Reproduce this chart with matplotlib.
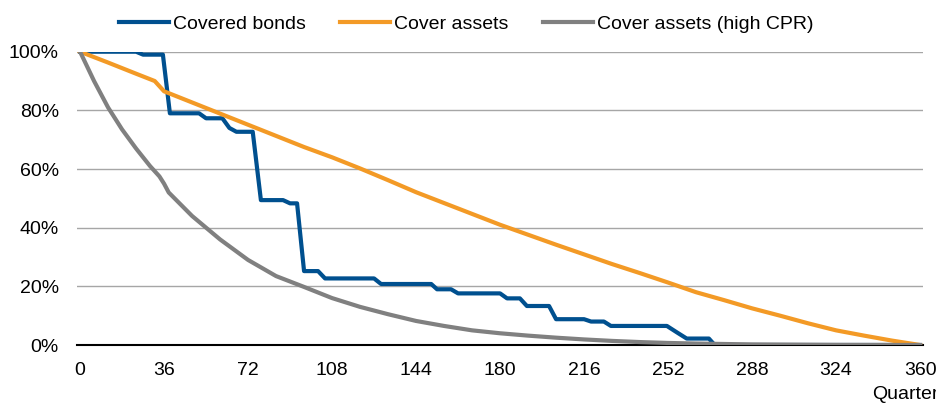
import matplotlib
matplotlib.use("Agg")
import matplotlib.pyplot as plt
from matplotlib.ticker import PercentFormatter

plt.rcParams['font.family'] = ['Liberation Sans', 'DejaVu Sans']

# Covered bonds (step-like redemption profile), vertices
bonds_x = [0, 24, 27, 35.5, 38.5, 51, 54, 61, 64, 67, 74, 77.5, 87, 90, 93, 96,
           102, 105, 126, 129, 150.5, 153, 159, 162, 180, 183, 188.5, 191.5,
           201, 204, 216, 219, 224.5, 227.5, 251.5, 256, 260, 269.5, 272, 360]
bonds_y = [100, 100, 99, 99, 79, 79, 77.3, 77.3, 74, 72.7, 72.7, 49.4, 49.4, 48.3,
           48.3, 25.2, 25.2, 22.7, 22.7, 20.8, 20.8, 19.0, 19.0, 17.6, 17.6, 15.9,
           15.9, 13.3, 13.3, 8.8, 8.8, 8.0, 8.0, 6.5, 6.5, 4.2, 2.2, 2.2, 0, 0]

# Cover assets
assets_x = [0, 12, 24, 32, 36, 48, 60, 72, 84, 96, 108, 120, 132, 144, 156, 168,
            180, 192, 204, 216, 228, 240, 252, 264, 276, 288, 300, 312, 324, 336,
            348, 360]
assets_y = [100, 96.3, 92.5, 90, 86.5, 82.7, 78.9, 75.1, 71.3, 67.5, 64, 60.2,
            56.2, 52.1, 48.4, 44.7, 41.0, 37.6, 34.2, 30.9, 27.6, 24.5, 21.3,
            18.0, 15.3, 12.5, 10.0, 7.4, 5.0, 3.2, 1.5, 0]

# Cover assets (high CPR)
cpr_x = [0, 6, 12, 18, 24, 30, 34, 36, 38, 48, 60, 72, 84, 96, 108, 120, 132,
         144, 156, 168, 180, 192, 204, 216, 228, 240, 252, 264, 288, 324, 360]
cpr_y = [100, 90, 81, 73.5, 67, 61, 57.5, 55, 52, 44, 36, 29, 23.5, 19.8, 16,
         13, 10.5, 8.2, 6.5, 5, 4, 3.2, 2.5, 1.9, 1.4, 1.0, 0.7, 0.5, 0.2, 0.05, 0]

x_ticks = list(range(0, 361, 36))
y_ticks = [0, 20, 40, 60, 80, 100]

fs = 14

fig = plt.figure(figsize=(9.36, 4.12), dpi=100)
ax = fig.add_axes([0.0823, 0.1626, 0.9039, 0.7119])

ax.plot(bonds_x, bonds_y, color='#00508F', linewidth=3, label='Covered bonds')
ax.plot(assets_x, assets_y, color='#F39A26', linewidth=3, label='Cover assets')
ax.plot(cpr_x, cpr_y, color='#808080', linewidth=3, label='Cover assets (high CPR)')

ax.set_xlim(-1.3, 361.3)
ax.set_ylim(0, 100)
ax.set_xticks(x_ticks)
ax.set_yticks(y_ticks)
ax.yaxis.set_major_formatter(PercentFormatter(decimals=0))
ax.tick_params(axis='both', length=0, labelsize=fs, colors='black')
ax.tick_params(axis='x', pad=12)
ax.tick_params(axis='y', pad=13)

ax.grid(axis='y', color='#A6A6A6', linewidth=1)
ax.set_axisbelow(True)
for s in ['top', 'right', 'left']:
    ax.spines[s].set_visible(False)
ax.spines['bottom'].set_color('black')
ax.spines['bottom'].set_linewidth(1.5)
ax.spines['bottom'].set_zorder(1.5)

fig.legend(*ax.get_legend_handles_labels(), loc='center', bbox_to_anchor=(0.498, 0.941),
           ncol=3, frameon=False, fontsize=fs, handlelength=2.6, handletextpad=0.2,
           columnspacing=1.75, borderpad=0)

# axis title is cut off at the right edge in the original chart
fig.text(0.932, 0.022, 'Quarters', fontsize=fs, ha='left', va='bottom')

fig.savefig('out.png', dpi=100)
